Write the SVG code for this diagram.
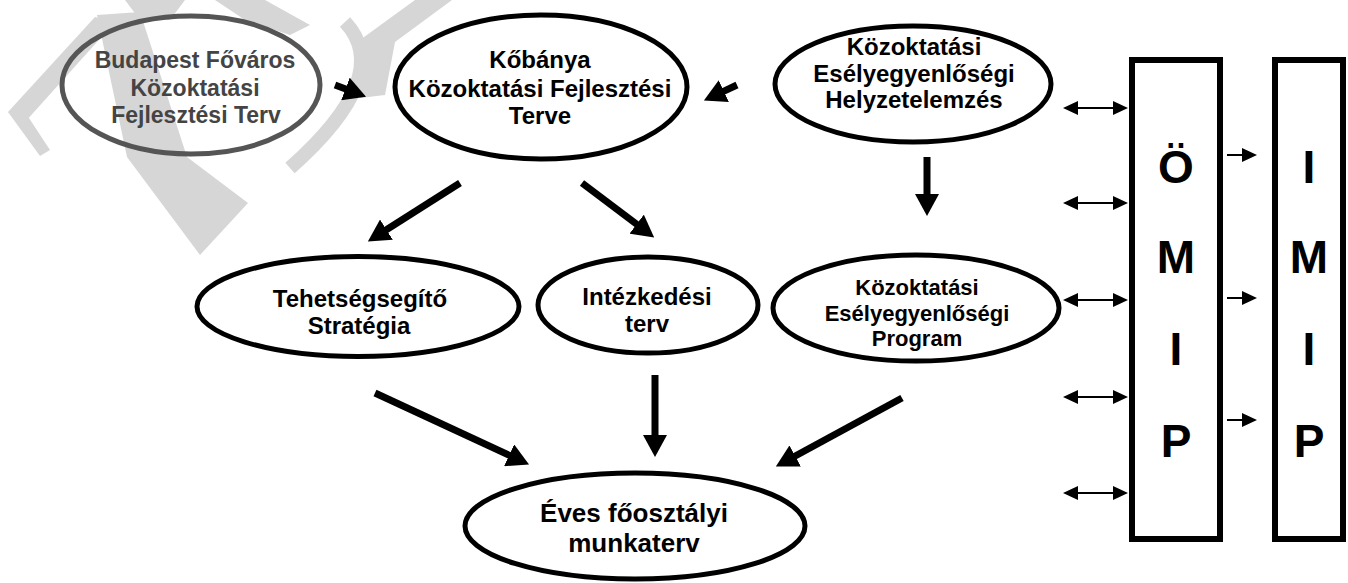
<svg xmlns="http://www.w3.org/2000/svg" width="1348" height="583" viewBox="0 0 1348 583">
<style>
.bg{fill:#fff}
.wm{fill:#d6d6d6;stroke:none}
.wml{fill:none;stroke:#d6d6d6}
.node ellipse{fill:#fff;stroke:#000;stroke-width:5}
.box rect{fill:#fff;stroke:#000;stroke-width:6}
text{font-family:"Liberation Sans",Arial,sans-serif;font-weight:bold;text-anchor:middle;fill:#000}
.t24{font-size:24px}
.t22{font-size:22px}
.t26{font-size:26px}
.big{font-size:46px}
.grey ellipse{fill:none;stroke:#555;stroke-width:5}
.grey text{fill:#444;font-size:23px}
.thick{stroke:#000;stroke-width:7;fill:none}
.thin{stroke:#000;stroke-width:2;fill:none}
</style>
<defs>
<marker id="head" markerUnits="userSpaceOnUse" viewBox="0 0 22 24" markerWidth="22" markerHeight="24" refX="1" refY="12" orient="auto">
<path d="M0,0 L22,12 L0,24 Z" fill="#000"/>
</marker>
<marker id="sh" markerUnits="userSpaceOnUse" viewBox="0 0 15 14" markerWidth="15" markerHeight="14" refX="1" refY="7" orient="auto-start-reverse">
<path d="M0,0 L15,7 L0,14 Z" fill="#000"/>
</marker>
</defs>
<rect class="bg" x="0" y="0" width="1348" height="583"/>
<g id="watermark">
<polygon class="wm" points="97,15 140,12 187,157 248,203 200,255 127,157"/>
<polygon class="wm" points="8,112 95,17 115,22 25,122"/>
<polygon class="wm" points="8,112 25,112 50,150 40,156"/>
<polygon class="wm" points="125,0 185,0 170,20 140,20"/>
<polygon class="wm" points="215,0 265,0 310,25 290,35 245,20"/>
<path class="wml" d="M345,22 Q395,75 290,168" stroke-width="14"/>
<polygon class="wm" points="360,40 415,0 452,0 395,42 385,95 360,98"/>
</g>
<g id="n-budapest" class="grey">
<ellipse cx="191" cy="85" rx="129" ry="69"/>
<text x="195" y="68">Budapest Főváros</text>
<text x="195" y="96">Közoktatási</text>
<text x="196" y="123">Fejlesztési Terv</text>
</g>
<g id="n-kobanya" class="node">
<ellipse cx="541" cy="87" rx="146" ry="72"/>
<text class="t24" x="540" y="68">Kőbánya</text>
<text class="t24" x="540" y="97">Közoktatási Fejlesztési</text>
<text class="t24" x="540" y="124">Terve</text>
</g>
<g id="n-helyzet" class="node">
<ellipse cx="913" cy="84" rx="138" ry="58"/>
<text class="t24" x="914" y="55">Közoktatási</text>
<text class="t24" x="914" y="82">Esélyegyenlőségi</text>
<text class="t24" x="914" y="108">Helyzetelemzés</text>
</g>
<g id="n-tehetseg" class="node">
<ellipse cx="358" cy="306.5" rx="161" ry="50"/>
<text class="t24" x="360" y="307">Tehetségsegítő</text>
<text class="t24" x="359" y="334">Stratégia</text>
</g>
<g id="n-intezkedesi" class="node">
<ellipse cx="648" cy="305" rx="110" ry="48"/>
<text class="t24" x="647" y="305">Intézkedési</text>
<text class="t24" x="647" y="332">terv</text>
</g>
<g id="n-program" class="node">
<ellipse cx="916" cy="308" rx="143" ry="53"/>
<text class="t22" x="917" y="295">Közoktatási</text>
<text class="t22" x="917" y="321">Esélyegyenlőségi</text>
<text class="t22" x="917" y="346">Program</text>
</g>
<g id="n-eves" class="node">
<ellipse cx="635" cy="526" rx="170" ry="53"/>
<text class="t26" x="634" y="522">Éves főosztályi</text>
<text class="t26" x="634" y="552">munkaterv</text>
</g>
<g id="n-omip" class="box">
<rect x="1132" y="60" width="88" height="479"/>
<text class="big" x="1176" y="183">Ö</text>
<text class="big" x="1176" y="273">M</text>
<text class="big" x="1176" y="365">I</text>
<text class="big" x="1176" y="457">P</text>
</g>
<g id="n-imip" class="box">
<rect x="1275" y="60" width="68" height="479"/>
<text class="big" x="1309" y="183">I</text>
<text class="big" x="1309" y="273">M</text>
<text class="big" x="1309" y="365">I</text>
<text class="big" x="1309" y="457">P</text>
</g>
<g id="connectors">
<line class="thick" x1="335" y1="85" x2="346.4" y2="89.3" marker-end="url(#head)"/>
<line class="thick" x1="737" y1="85" x2="722.9" y2="91.6" marker-end="url(#head)"/>
<line class="thick" x1="460" y1="183" x2="385.6" y2="230.2" marker-end="url(#head)"/>
<line class="thick" x1="582" y1="183" x2="637.4" y2="224.8" marker-end="url(#head)"/>
<line class="thick" x1="927" y1="157" x2="927" y2="195" marker-end="url(#head)"/>
<line class="thick" x1="375" y1="393" x2="510" y2="455.7" marker-end="url(#head)"/>
<line class="thick" x1="655" y1="375" x2="655" y2="436" marker-end="url(#head)"/>
<line class="thick" x1="902" y1="398" x2="794.3" y2="456.5" marker-end="url(#head)"/>
<line class="thin" x1="1077" y1="108" x2="1114" y2="108" marker-start="url(#sh)" marker-end="url(#sh)"/>
<line class="thin" x1="1077" y1="203" x2="1114" y2="203" marker-start="url(#sh)" marker-end="url(#sh)"/>
<line class="thin" x1="1077" y1="300" x2="1114" y2="300" marker-start="url(#sh)" marker-end="url(#sh)"/>
<line class="thin" x1="1077" y1="397" x2="1114" y2="397" marker-start="url(#sh)" marker-end="url(#sh)"/>
<line class="thin" x1="1077" y1="493" x2="1114" y2="493" marker-start="url(#sh)" marker-end="url(#sh)"/>
<line class="thin" x1="1227" y1="155" x2="1243" y2="155" marker-end="url(#sh)"/>
<line class="thin" x1="1227" y1="298" x2="1243" y2="298" marker-end="url(#sh)"/>
<line class="thin" x1="1227" y1="420" x2="1243" y2="420" marker-end="url(#sh)"/>
</g>
</svg>
